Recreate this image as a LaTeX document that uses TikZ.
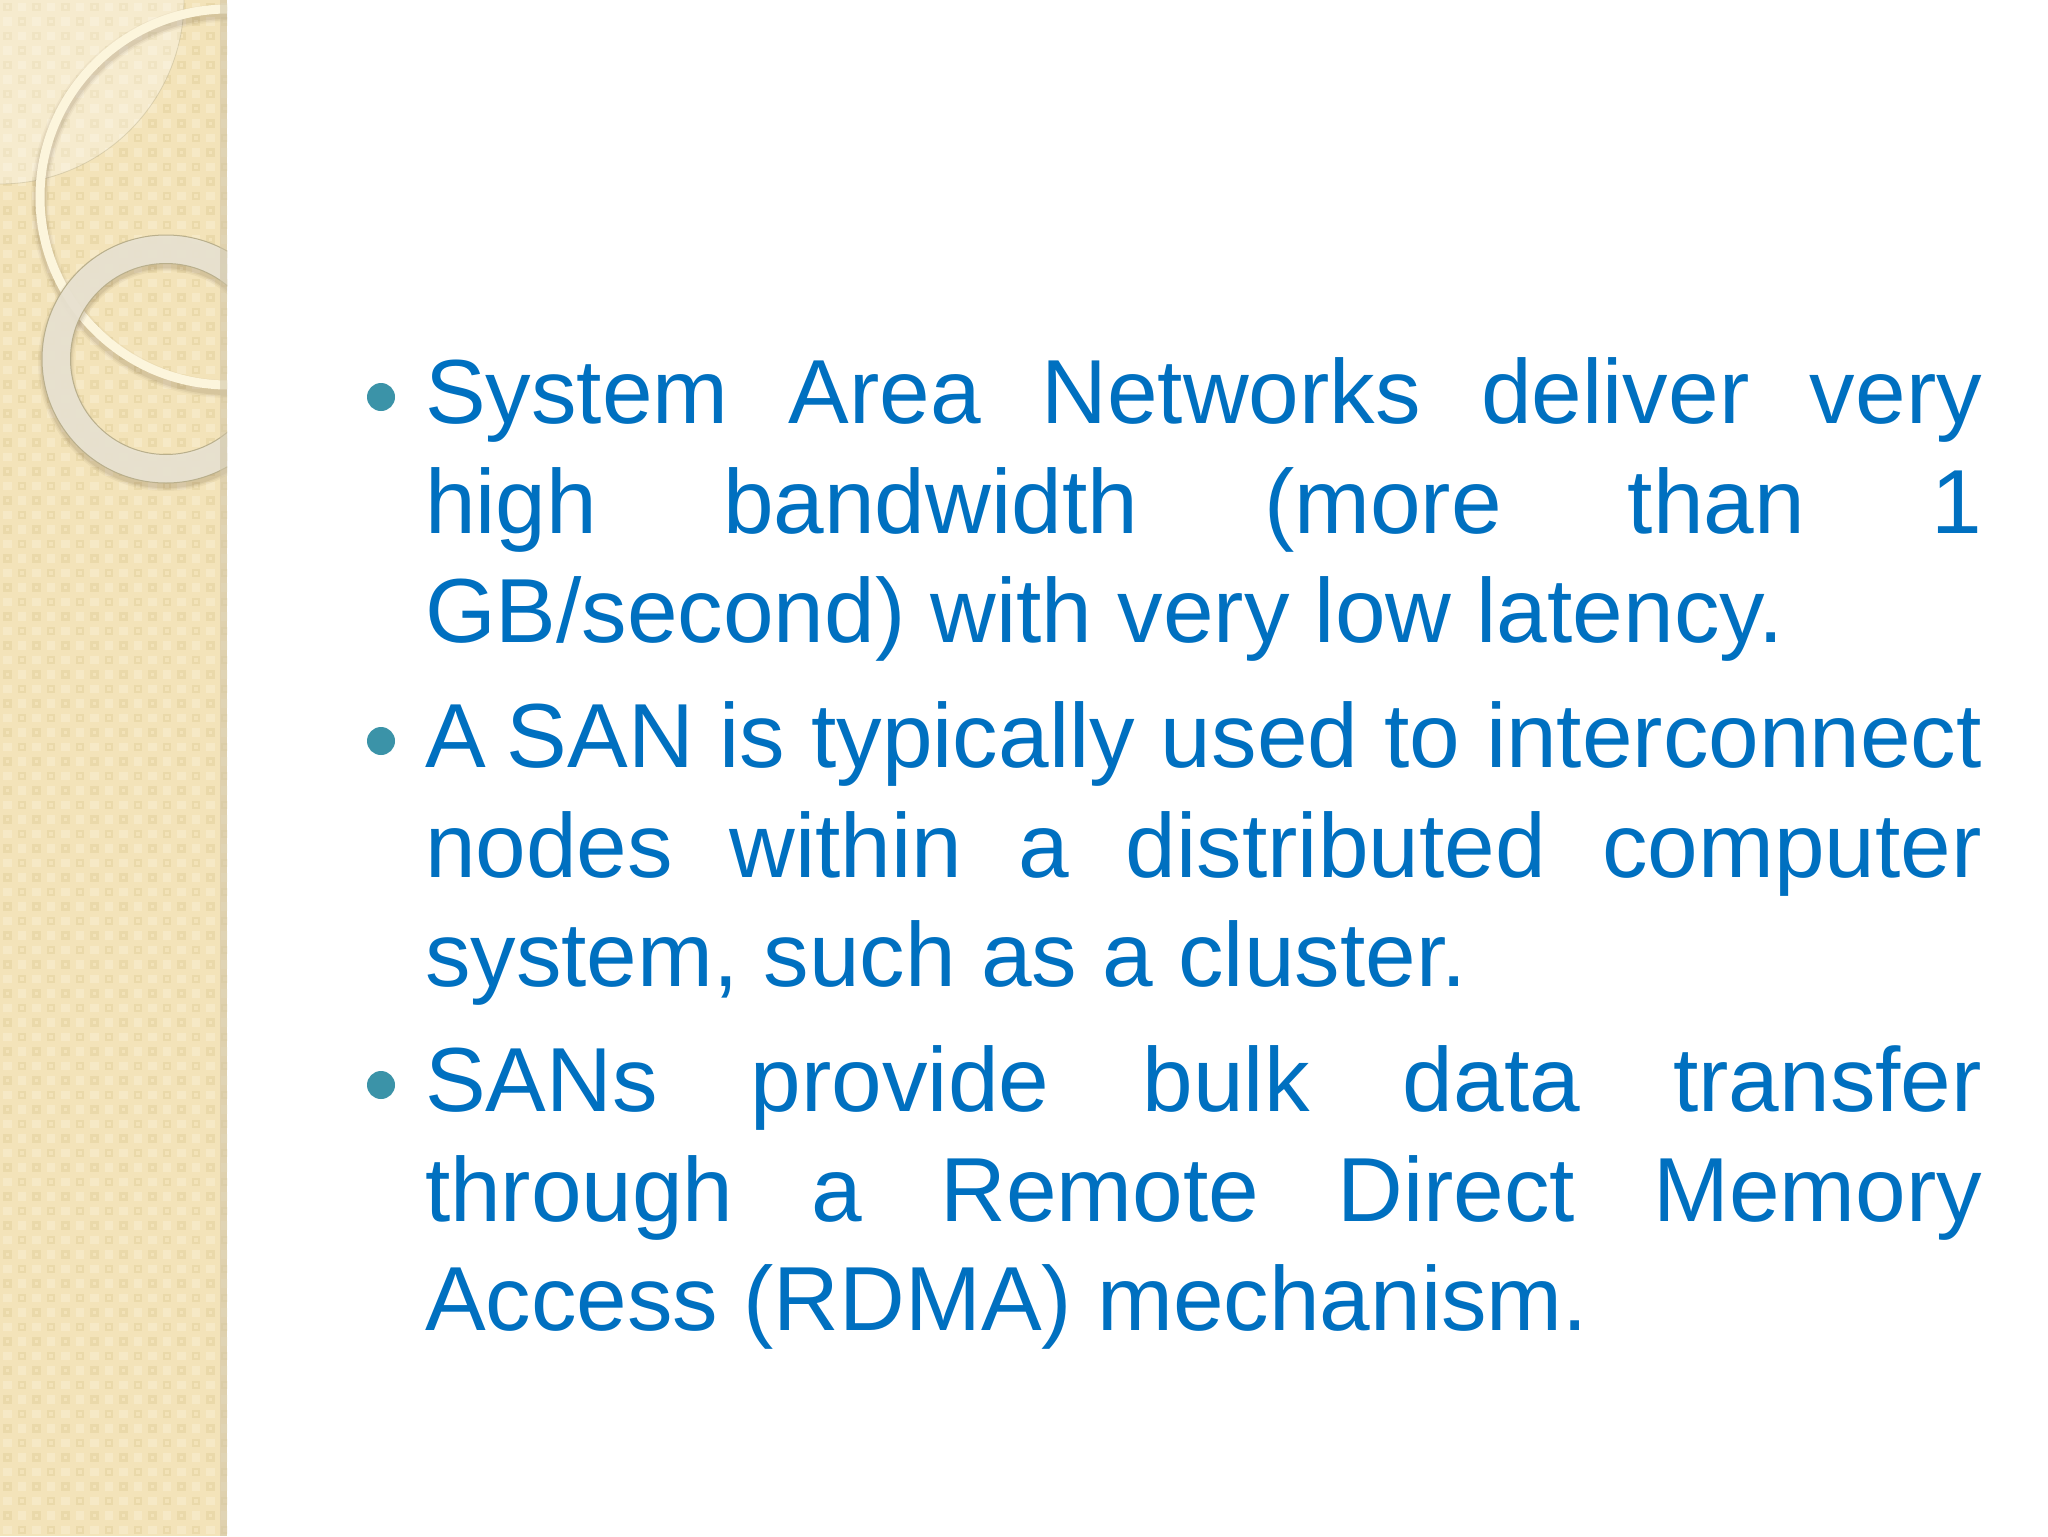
\documentclass[tikz,border=0pt]{standalone}
\usepackage{fontspec}
\setmainfont{Liberation Sans}
\definecolor{paneltan}{HTML}{F3E3B9}
\definecolor{cellpale}{HTML}{F6E9C6}
\definecolor{celldark}{HTML}{EAD9AA}
\definecolor{panelshade}{HTML}{CFC4A6}
\definecolor{ringgrey}{HTML}{E9E3D2}
\definecolor{ringedge}{HTML}{B9AF8C}
\definecolor{thincream}{HTML}{FCF5DC}
\definecolor{bodyblue}{HTML}{0070C0}
\definecolor{bullteal}{HTML}{3B93A8}
\tikzset{
  paratext/.style={anchor=north west,inner sep=0pt,outer sep=0pt,text width=778.5pt,
    align=justify,text=bodyblue,font=\fontsize{45.5}{54.85}\selectfont},
  bulletdot/.style={circle,fill=bullteal,draw=none,minimum size=14pt,inner sep=0pt}
}
\newcommand{\firstline}{\rule{0pt}{40pt}}
\begin{document}
\begin{tikzpicture}[x=0.5pt,y=-0.5pt]
\useasboundingbox (0,0) rectangle (2048,1536);
\fill[white] (0,0) rectangle (2048,1536);
\begin{scope}
\clip (0,0) rectangle (227,1536);
% panel
\fill[paneltan] (0,0) rectangle (227,1536);
\foreach \i in {0,...,15}{
  \foreach \j in {0,...,106}{
    \pgfmathtruncatemacro{\cellodd}{mod(\i+\j,2)}
    \pgfmathsetmacro{\xx}{\i*14.5}
    \pgfmathsetmacro{\yy}{\j*14.5}
    \ifnum\cellodd=0
      \fill[celldark] (\xx+3,\yy+3) rectangle (\xx+11.5,\yy+11.5);
      \fill[paneltan] (\xx+5.5,\yy+5.5) rectangle (\xx+9,\yy+9);
    \else
      \fill[cellpale] (\xx+3,\yy+3) rectangle (\xx+11.5,\yy+11.5);
    \fi
  }
}
% pale quarter disc
\fill[white,opacity=0.3] (0,0) -- (184,0) arc[start angle=0,end angle=90,radius=184] -- cycle;
\draw[ringedge,opacity=0.45,line width=0.4pt] (184,0) arc[start angle=0,end angle=90,radius=184];
% thin ring
\foreach \w/\o in {18/0.04,15/0.06,12/0.08}{
  \draw[black!60!brown,opacity=\o,line width=\w*0.5pt] (228,201) circle[radius=188];
}
\draw[thincream,line width=4.5pt] (228,197) circle[radius=188];
% wide ring
\foreach \w/\o in {36/0.05,33/0.06,30.5/0.08}{
  \draw[black!60!brown,opacity=\o,line width=\w*0.5pt] (166,363) circle[radius=110];
}
\fill[ringgrey,opacity=0.93,even odd rule] (166,359) circle[radius=124] (166,359) circle[radius=95.5];
\draw[ringedge,line width=0.5pt] (166,359) circle[radius=124];
\draw[ringedge,line width=0.5pt] (166,359) circle[radius=95.5];
% panel right shade
\fill[panelshade,opacity=0.55] (220,0) rectangle (227,1536);
\end{scope}
% text
\node[paratext] (p1) at (425,343.5) {\firstline System Area Networks deliver very\linebreak high bandwidth (more than 1\linebreak GB/second) with very low latency.};
\node[paratext] (p2) at (425,687.5) {\firstline A\kern-2.5pt{} SAN is typically used to interconnect\linebreak nodes within a distributed computer\linebreak system, such as a cluster.};
\node[paratext] (p3) at (425,1031.5) {\firstline SANs provide bulk data transfer\linebreak through a Remote Direct Memory\linebreak Access (RDMA) mechanism.};
\node[bulletdot] (b1) at (381,397) {};
\node[bulletdot] (b2) at (381,741) {};
\node[bulletdot] (b3) at (381,1085) {};
\end{tikzpicture}
\end{document}
